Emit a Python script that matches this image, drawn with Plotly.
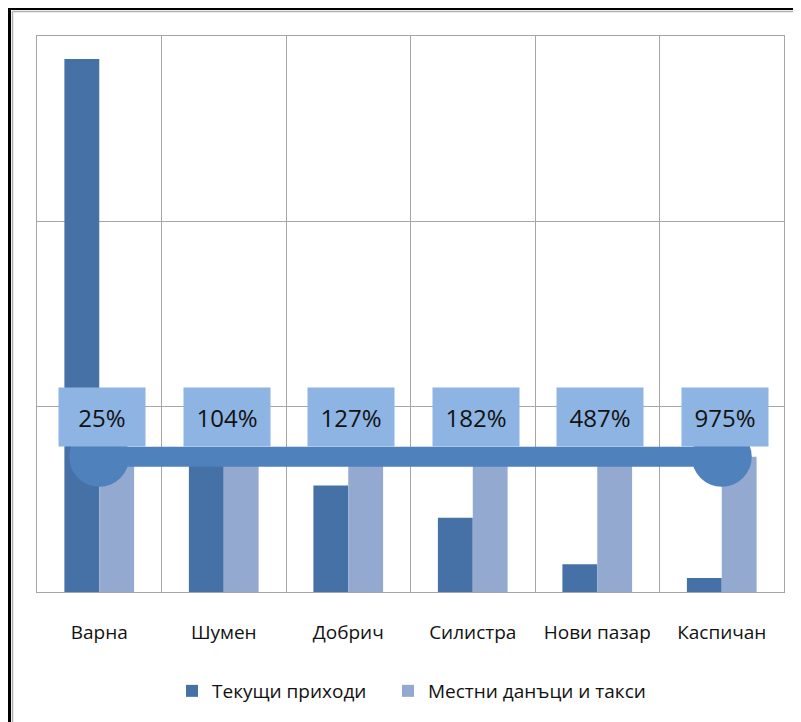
import plotly.graph_objects as go

categories = ["Варна", "Шумен", "Добрич", "Силистра", "Нови пазар", "Каспичан"]
current_revenue = [287.6, 70.2, 57.4, 40.0, 15.0, 7.5]
local_taxes = [73, 73, 73, 73, 73, 73]
ratio_labels = ["25%", "104%", "127%", "182%", "487%", "975%"]
series_names = ["Текущи приходи", "Местни данъци и такси"]

OFF = 8  # page body margin of the html page
W, H = 801 - OFF, 722 - OFF
# plot area in reference (screen) pixels
X0, X1, Y0, Y1 = 37, 784, 36, 592
L, R, T, B = X0 - OFF, 801 - X1, Y0 - OFF, 722 - Y1
pw, ph = X1 - X0, Y1 - Y0

def px(x):
    return (x - X0) / pw

def py(y):
    return (Y1 - y) / ph

FONT = "Open Sans"
DARK = "#4571A7"
LIGHT = "#94A9D0"
LINE = "#4F81BD"
BOX = "#8DB4E2"
GRID = "#A6A6A6"

fig = go.Figure()
fig.add_trace(go.Bar(x=categories, y=current_revenue, name=series_names[0],
                     marker=dict(color=DARK, line=dict(width=0)), legend="legend"))
fig.add_trace(go.Bar(x=categories, y=local_taxes, name=series_names[1],
                     marker=dict(color=LIGHT, line=dict(width=0)), legend="legend2"))

sizes = [60 if i in (0, len(categories) - 1) else 0 for i in range(len(categories))]
fig.add_trace(go.Scatter(x=categories, y=local_taxes, mode="lines+markers",
                         line=dict(color=LINE, width=20),
                         marker=dict(size=sizes, color=LINE, opacity=1, line=dict(width=0)),
                         showlegend=False, hoverinfo="skip", cliponaxis=False))

for c, v, t in zip(categories, local_taxes, ratio_labels):
    fig.add_annotation(x=c, y=v, text=t, showarrow=False, yanchor="bottom",
                       xshift=3, yshift=10, width=86, height=58, bgcolor=BOX, borderpad=0,
                       font=dict(family=FONT, size=24, color="#111111"),
                       align="center", valign="middle")

# outer frame
fig.add_shape(type="line", xref="paper", yref="paper", x0=px(9.5), x1=px(9.5),
              y0=py(730), y1=py(8.5), line=dict(color="black", width=3))
fig.add_shape(type="line", xref="paper", yref="paper", x0=px(8), x1=px(806),
              y0=py(8.5), y1=py(8.5), line=dict(color="black", width=3))
fig.add_shape(type="line", xref="paper", yref="paper", x0=px(12.5), x1=px(12.5),
              y0=py(730), y1=py(11.5), line=dict(color="#B0B0B0", width=1.5))
fig.add_shape(type="line", xref="paper", yref="paper", x0=px(12.5), x1=px(806),
              y0=py(11.5), y1=py(11.5), line=dict(color="#B0B0B0", width=1.5))

legend_common = dict(orientation="h", xanchor="left", y=py(691), yanchor="middle",
                     font=dict(family=FONT, size=19, color="#111111"),
                     itemwidth=30, bgcolor="rgba(0,0,0,0)")

fig.update_layout(
    width=W, height=H,
    margin=dict(l=L, r=R, t=T, b=B, autoexpand=False),
    paper_bgcolor="white", plot_bgcolor="white",
    barmode="group", bargap=0.44, bargroupgap=0,
    font=dict(family=FONT, size=19, color="#111111"),
    legend=dict(x=px(172), **legend_common),
    legend2=dict(x=px(388), **legend_common),
    xaxis=dict(type="category", range=[-0.5, len(categories) - 0.5],
               tickson="boundaries", showgrid=True, gridcolor=GRID,
               gridwidth=1, showline=True, linecolor=GRID, linewidth=1, mirror=True,
               ticks="", ticklabelstandoff=23,
               tickfont=dict(family=FONT, size=19, color="#111111")),
    yaxis=dict(range=[0, 300], dtick=100, showgrid=True, gridcolor=GRID, gridwidth=1,
               showline=True, linecolor=GRID, linewidth=1, mirror=True,
               showticklabels=False, ticks="", zeroline=False),
)

fig.write_html("out.html")
